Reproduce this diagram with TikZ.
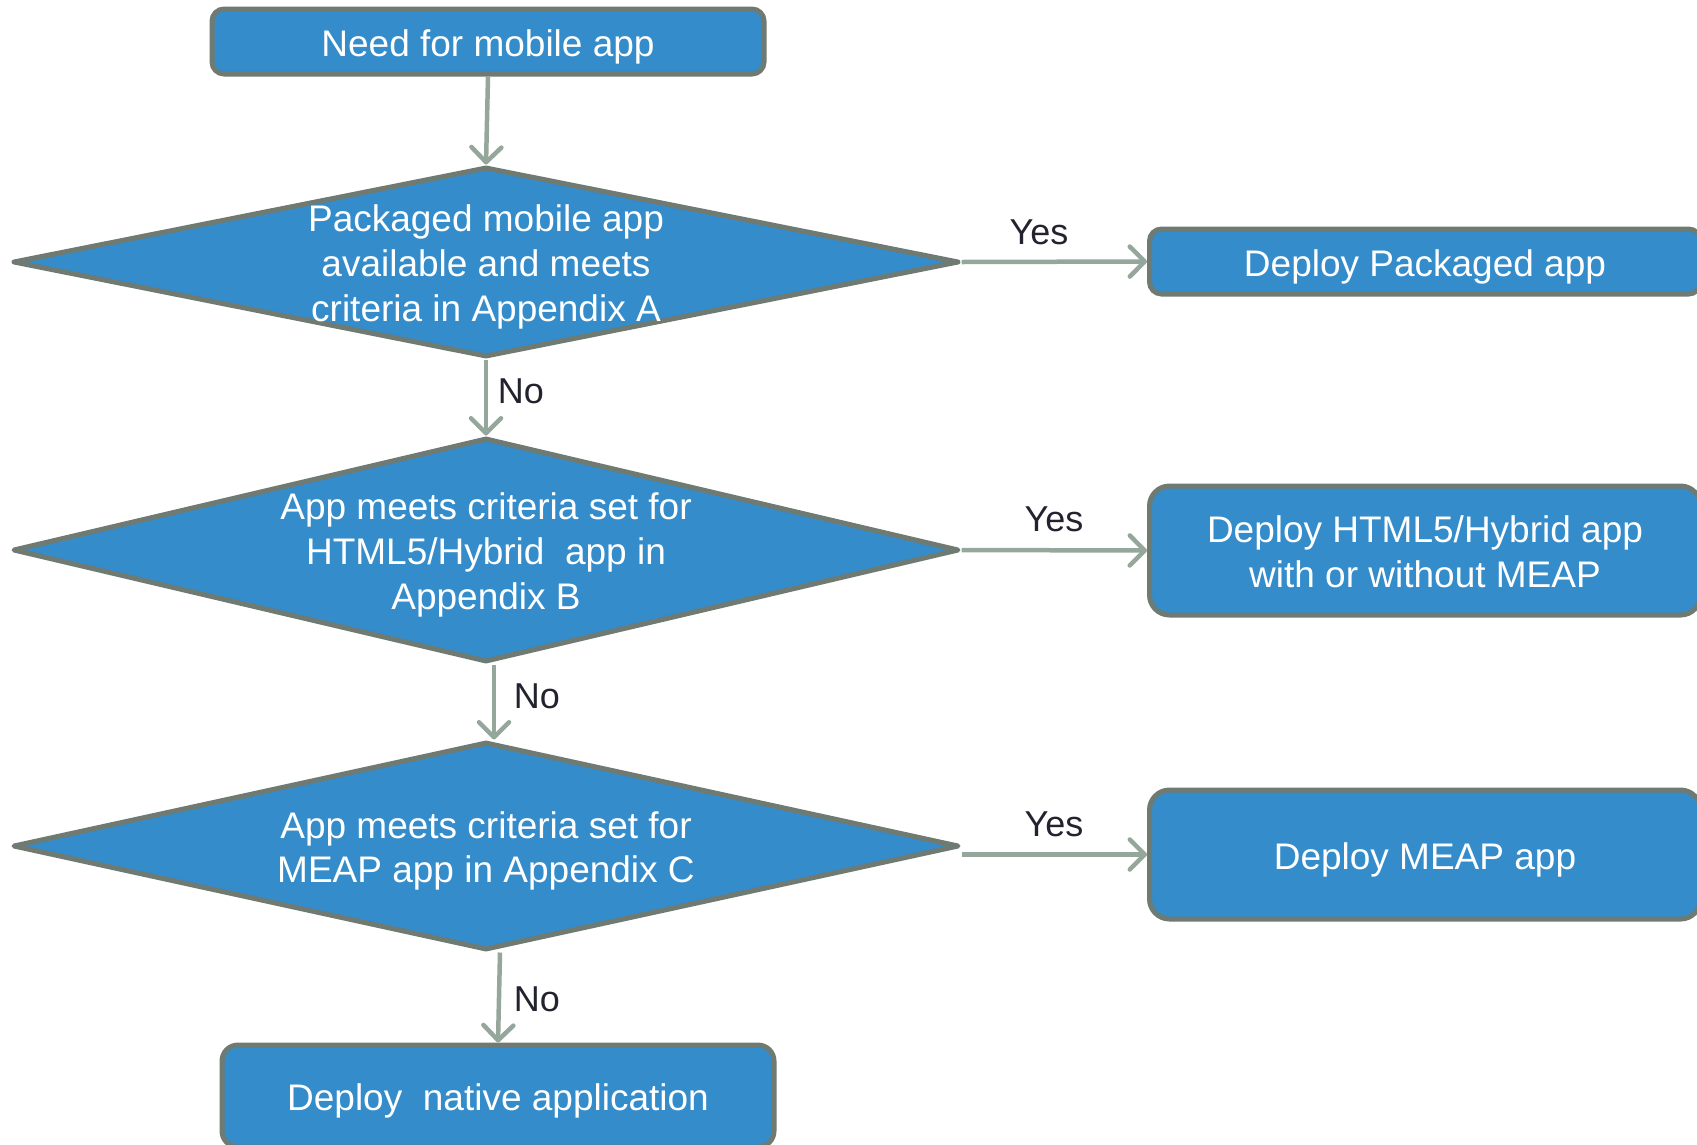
\documentclass[tikz,border=0pt]{standalone}
\usepackage{fontspec}
\setmainfont{Liberation Sans}
\usetikzlibrary{shapes.geometric,arrows.meta}
\definecolor{boxfill}{HTML}{348CCB}
\definecolor{boxline}{HTML}{6E7A72}
\definecolor{arrowc}{HTML}{95A69B}
\definecolor{labc}{HTML}{23232F}
\tikzset{
  txt/.style={font=\fontsize{37}{44.6}\selectfont, text=white, align=center, yshift=-5pt},
  procbox/.style={draw=boxline, fill=boxfill, line width=5pt, rounded corners=12pt, inner sep=0pt},
  decision/.style={diamond, draw=boxline, fill=boxfill, line width=5pt, line join=round, inner sep=0pt},
  flow/.style={draw=arrowc, line width=4.5pt, -{Straight Barb[length=15pt,width=30pt,line cap=round,line join=round]}},
  lab/.style={font=\fontsize{36}{40}\selectfont, text=labc}
}
\begin{document}
\begin{tikzpicture}[x=1pt,y=-1pt]
\useasboundingbox (0,0) rectangle (1697,1144);
% boxes
\node[procbox, minimum width=552pt, minimum height=65pt,
  label={[txt]center:Need for mobile app}] (need) at (488,41.5) {};
\node[procbox, minimum width=551pt, minimum height=65pt,
  label={[txt]center:Deploy Packaged app}] (pack) at (1425,261.5) {};
\node[procbox, rounded corners=20pt, minimum width=551pt, minimum height=129pt,
  label={[txt,yshift=4pt]center:Deploy HTML5/Hybrid app\\with or without MEAP}] (html) at (1425,550.5) {};
\node[procbox, rounded corners=20pt, minimum width=551pt, minimum height=129pt,
  label={[txt]center:Deploy MEAP app}] (meap) at (1425,854.5) {};
\node[procbox, rounded corners=16pt, minimum width=552pt, minimum height=102pt,
  label={[txt]center:Deploy~ native application}] (native) at (498,1096) {};
% decisions
\node[decision, minimum width=946pt, minimum height=190pt,
  label={[txt]center:Packaged mobile app\\available and meets\\criteria in Appendix A}] (d1) at (486,262) {};
\node[decision, minimum width=946pt, minimum height=224pt,
  label={[txt]center:App meets criteria set for\\HTML5/Hybrid~ app in\\Appendix B}] (d2) at (486,550) {};
\node[decision, minimum width=946pt, minimum height=208pt,
  label={[txt]center:App meets criteria set for\\MEAP app in Appendix C}] (d3) at (486,846) {};
% connectors
\draw[flow] (need.south) -- (d1.north);
\draw[flow] (d1.east) -- (pack.west);
\draw[flow] (d1.south) -- (d2.north);
\draw[flow] (d2.east) -- (html.west);
\draw[flow] ([xshift=8pt]d2.south) -- ([xshift=8pt]d3.north);
\draw[flow] (d3.east |- meap.west) -- (meap.west);
\draw[flow] ([xshift=14pt]d3.south) -- (native.north);
% labels
\node[lab] (y1) at (1039,232) {Yes};
\node[lab] (y2) at (1054,519) {Yes};
\node[lab] (y3) at (1054,824) {Yes};
\node[lab] (n1) at (521,391) {No};
\node[lab] (n2) at (537,696) {No};
\node[lab] (n3) at (537,999) {No};
\end{tikzpicture}
\end{document}
